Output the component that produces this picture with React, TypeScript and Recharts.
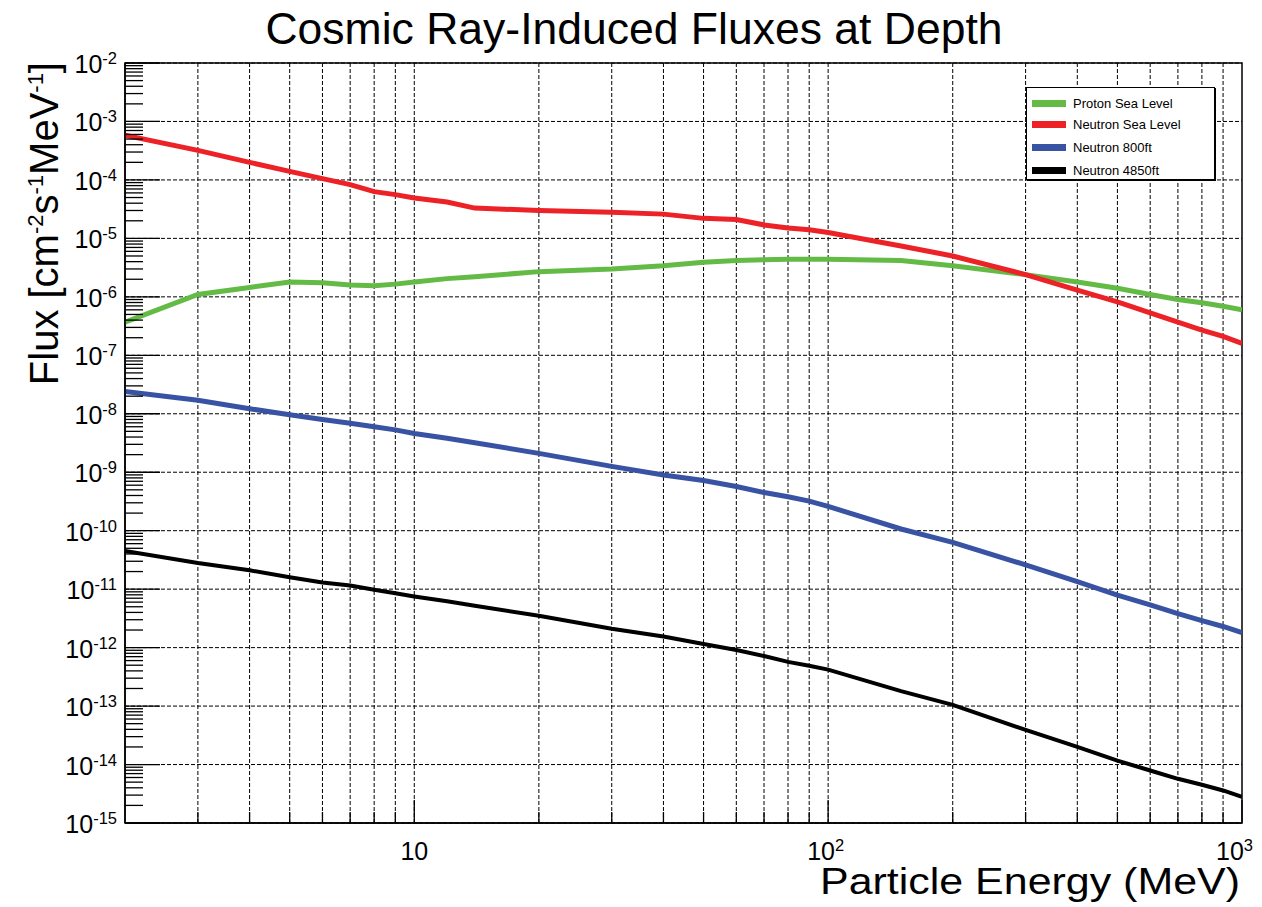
import React from 'react';
import { LineChart, Line, XAxis, YAxis, CartesianGrid, Legend, ReferenceArea } from 'recharts';

// energies in MeV, fluxes in cm^-2 s^-1 MeV^-1
const energy = [2, 3, 4, 5, 6, 7, 8, 9, 10, 12, 14, 20, 30, 40, 50, 60, 70, 80, 90, 100, 150, 200, 300, 400, 500, 600, 700, 800, 900, 1000];
const protonSeaLevel = [3.7e-7, 1.1e-6, 1.45e-6, 1.8e-6, 1.75e-6, 1.6e-6, 1.55e-6, 1.65e-6, 1.8e-6, 2.05e-6, 2.2e-6, 2.7e-6, 3.0e-6, 3.4e-6, 3.9e-6, 4.2e-6, 4.3e-6, 4.4e-6, 4.4e-6, 4.4e-6, 4.2e-6, 3.4e-6, 2.4e-6, 1.8e-6, 1.4e-6, 1.1e-6, 9.0e-7, 7.9e-7, 6.9e-7, 6.0e-7];
const neutronSeaLevel = [5.8e-4, 3.2e-4, 2.0e-4, 1.4e-4, 1.05e-4, 8.3e-5, 6.3e-5, 5.6e-5, 4.9e-5, 4.2e-5, 3.3e-5, 3.0e-5, 2.8e-5, 2.6e-5, 2.2e-5, 2.1e-5, 1.7e-5, 1.5e-5, 1.4e-5, 1.26e-5, 7.4e-6, 5.0e-6, 2.4e-6, 1.3e-6, 8.2e-7, 5.3e-7, 3.7e-7, 2.7e-7, 2.1e-7, 1.6e-7];
const neutron800ft = [2.4e-8, 1.7e-8, 1.22e-8, 9.6e-9, 8.0e-9, 6.9e-9, 6.0e-9, 5.3e-9, 4.6e-9, 3.8e-9, 3.2e-9, 2.1e-9, 1.26e-9, 9.0e-10, 7.2e-10, 5.7e-10, 4.5e-10, 3.8e-10, 3.2e-10, 2.6e-10, 1.07e-10, 6.3e-11, 2.6e-11, 1.35e-11, 7.9e-12, 5.4e-12, 3.8e-12, 2.9e-12, 2.3e-12, 1.8e-12];
const neutron4850ft = [4.5e-11, 2.8e-11, 2.1e-11, 1.6e-11, 1.3e-11, 1.15e-11, 9.8e-12, 8.5e-12, 7.5e-12, 6.2e-12, 5.2e-12, 3.5e-12, 2.1e-12, 1.55e-12, 1.15e-12, 9.1e-13, 7.2e-13, 5.7e-13, 4.9e-13, 4.2e-13, 1.8e-13, 1.05e-13, 3.9e-14, 2.0e-14, 1.17e-14, 7.9e-15, 5.7e-15, 4.5e-15, 3.6e-15, 2.8e-15];

const xTicks = [3, 4, 5, 6, 7, 8, 9, 10, 20, 30, 40, 50, 60, 70, 80, 90, 100, 200, 300, 400, 500, 600, 700, 800, 900, 1000];
const xGrid = xTicks.slice(0, -1);
const yDecades = [1e-15, 1e-14, 1e-13, 1e-12, 1e-11, 1e-10, 1e-9, 1e-8, 1e-7, 1e-6, 1e-5, 1e-4, 1e-3, 1e-2];
const yTicks: number[] = [];
for (let d = -15; d < -2; d++) {
  for (let k = 1; k <= 9; k++) yTicks.push(Number(`${k}e${d}`));
}
yTicks.push(1e-2);

const series = [
  { key: 'proton', name: 'Proton Sea Level', color: '#63bb46', width: 5 },
  { key: 'nSea', name: 'Neutron Sea Level', color: '#ec2227', width: 5 },
  { key: 'n800', name: 'Neutron 800ft', color: '#3953a4', width: 5 },
  { key: 'n4850', name: 'Neutron 4850ft', color: '#000000', width: 4 },
];

const rows = energy.map((e, i) => ({
  energy: e,
  proton: protonSeaLevel[i],
  nSea: neutronSeaLevel[i],
  n800: neutron800ft[i],
  n4850: neutron4850ft[i],
}));

const FONT = '"Liberation Sans", Arial, Helvetica, sans-serif';

const isDecade = (v: number) => Math.abs(Math.log10(v) - Math.round(Math.log10(v))) < 1e-6;

const YTick = (props: any) => {
  const { x, y, payload } = props;
  const v = payload.value;
  const major = isDecade(v);
  return (
    <g>
      <line x1={x} x2={x + (major ? 35 : 18)} y1={y} y2={y} stroke="#000" strokeWidth={1.3} />
      {major && (
        <text x={x - 8} y={y + 10} textAnchor="end" fontFamily={FONT} fontSize={25} fill="#000">
          10<tspan dy={-9} fontSize={16.5}>{Math.round(Math.log10(v))}</tspan>
        </text>
      )}
    </g>
  );
};

const XTick = (props: any) => {
  const { x, y, payload } = props;
  const v = payload.value;
  const major = isDecade(v);
  const exp = Math.round(Math.log10(v));
  const shift = exp === 1 ? 14 : exp === 2 ? 16 : 11;
  return (
    <g>
      <line x1={x} x2={x} y1={y} y2={y - (major ? 23 : 11)} stroke="#000" strokeWidth={1.3} />
      {major && (
        <text x={x + shift} y={y + 37} textAnchor="end" fontFamily={FONT} fontSize={25} fill="#000">
          10{exp > 1 && <tspan dy={-9} fontSize={16.5}>{exp}</tspan>}
        </text>
      )}
    </g>
  );
};

const XTitle = () => (
  <text x={1232} y={886} textAnchor="end" fontFamily={FONT} fontSize={36} textLength={420} lengthAdjust="spacingAndGlyphs" fill="#000">
    Particle Energy (MeV)
  </text>
);

const YTitle = () => (
  <text transform="translate(50,54) rotate(-90)" textAnchor="end" fontFamily={FONT} fontSize={40} fill="#000">
    Flux [cm<tspan dy={-15} fontSize={22}>-2</tspan>
    <tspan dy={15}>s</tspan>
    <tspan dy={-15} fontSize={22}>-1</tspan>
    <tspan dy={15}>MeV</tspan>
    <tspan dy={-15} fontSize={22}>-1</tspan>
    <tspan dy={15}>]</tspan>
  </text>
);

const renderLegend = () => (
  <div
    style={{
      width: 189,
      height: 93,
      border: '1.5px solid #000',
      boxShadow: '1px 1px 0 #000',
      boxSizing: 'border-box',
      background: '#fff',
      position: 'relative',
      fontFamily: FONT,
      fontSize: 13,
      color: '#000',
    }}
  >
    {series.map((s, i) => (
      <div key={s.key} style={{ position: 'absolute', left: 5, top: [15, 36, 59, 82][i] - 8, height: 16, display: 'flex', alignItems: 'center' }}>
        <div style={{ width: 34, height: 7, background: s.color }} />
        <span style={{ marginLeft: 7, whiteSpace: 'nowrap' }}>{s.name}</span>
      </div>
    ))}
  </div>
);

export default function App() {
  return (
    <div style={{ position: 'relative', width: 1254, height: 899 }}>
      <div
        style={{
          position: 'absolute',
          left: 226,
          width: 800,
          top: -1,
          textAlign: 'center',
          fontFamily: FONT,
          fontSize: 44.5,
          lineHeight: 1,
          color: '#000',
        }}
      >
        Cosmic Ray-Induced Fluxes at Depth
      </div>
      <LineChart width={1254} height={899} data={rows} margin={{ top: 55, right: 20, bottom: 24, left: 17 }} style={{ overflow: 'visible' }}>
        <CartesianGrid stroke="#000" strokeDasharray="4 2" strokeWidth={1} horizontalValues={yDecades} verticalValues={xGrid} />
        <XAxis
          dataKey="energy"
          type="number"
          scale="log"
          domain={[2, 1000]}
          allowDataOverflow
          ticks={xTicks}
          interval={0}
          tick={<XTick />}
          tickLine={false}
          tickSize={0}
          tickMargin={0}
          height={60}
          axisLine={{ stroke: '#000', strokeWidth: 1.5 }}
          label={<XTitle />}
        />
        <YAxis
          type="number"
          scale="log"
          domain={[1e-15, 1e-2]}
          allowDataOverflow
          ticks={yTicks}
          interval={0}
          tick={<YTick />}
          tickLine={false}
          tickSize={0}
          tickMargin={0}
          width={100}
          axisLine={{ stroke: '#000', strokeWidth: 1.5 }}
          label={<YTitle />}
        />
        <ReferenceArea x1={2} x2={1000} y1={1e-15} y2={1e-2} fill="none" stroke="#000" strokeWidth={1.5} ifOverflow="visible" />
        <Legend
          layout="vertical"
          align="center"
          verticalAlign="middle"
          content={renderLegend}
          wrapperStyle={{ left: 1018, top: 79, width: 189, height: 93 }}
        />
        {series.map((s) => (
          <Line
            key={s.key}
            type="linear"
            dataKey={s.key}
            name={s.name}
            stroke={s.color}
            strokeWidth={s.width}
            dot={false}
            isAnimationActive={false}
          />
        ))}
      </LineChart>
    </div>
  );
}
